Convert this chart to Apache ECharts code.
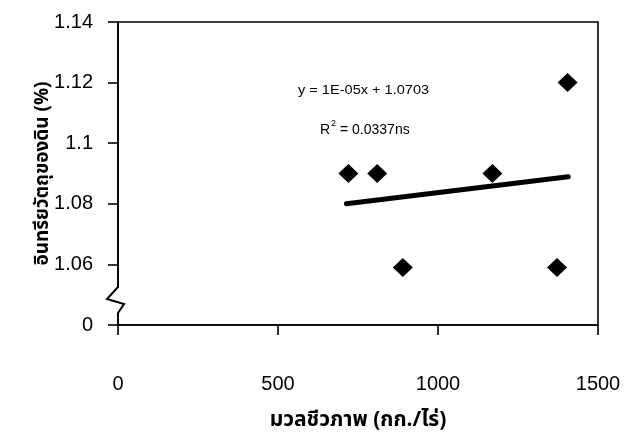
<!DOCTYPE html>
<html>
<head>
<meta charset="utf-8">
<script src="https://cdn.jsdelivr.net/npm/echarts@6/dist/echarts.min.js"></script>
<style>html,body{margin:0;padding:0;background:#fff}#c{width:626px;height:437px}</style>
</head>
<body>
<div id="c"></div>
<script>
// data
var biomass = [720, 810, 1170, 890, 1372, 1405];
var organicMatter = [1.09, 1.09, 1.09, 1.059, 1.059, 1.12];
var trendX = [714, 1407];
var trendY = [1.080, 1.0889];
var yTickLabels = ['0', '1.06', '1.08', '1.1', '1.12', '1.14'];
var xTickLabels = ['0', '500', '1000', '1500'];
var xTitle = 'มวลชีวภาพ (กก./ไร่)';
var yTitle = 'อินทรียวัตถุของดิน (%)';
var eqText = 'y = 1E-05x + 1.0703';
var r2Value = '0.0337ns';

var chart = echarts.init(document.getElementById('c'), null, {renderer: 'canvas'});
var fontF = '"Liberation Sans", Arial, sans-serif';
var thaiF = '"Noto Sans Thai", "Noto Serif Thai", Loma, Garuda, "Liberation Sans", sans-serif';

var scatterData = biomass.map(function (x, i) { return [x, organicMatter[i]]; });
var trendData = trendX.map(function (x, i) { return [x, trendY[i]]; });

chart.setOption({
  animation: false,
  backgroundColor: '#fff',
  grid: {left: 118, right: 28, top: 22, bottom: 112, show: true, borderColor: '#000', borderWidth: 1.6, backgroundColor: 'transparent'},
  graphic: [
    {type: 'text', x: 298, y: 84, scaleX: 1.12, z: 10, style: {text: eqText, font: '13px ' + fontF, fill: '#000'}},
    {type: 'text', x: 320, y: 119, z: 10, style: {
      text: '{r|R}{s|2}{r| = ' + r2Value + '}',
      rich: {r: {font: '14px ' + fontF, fill: '#000', verticalAlign: 'bottom', lineHeight: 18},
             s: {font: '9px ' + fontF, fill: '#000', verticalAlign: 'top', lineHeight: 18, padding: [0, 0, 9, 1]}}
    }}
  ],
  xAxis: {
    type: 'value', min: 0, max: 1500, interval: 500,
    axisLine: {show: true, onZero: false, lineStyle: {color: '#000', width: 1.6}},
    axisTick: {show: true, inside: false, length: 10, lineStyle: {color: '#000', width: 1.6}},
    splitLine: {show: false},
    axisLabel: {margin: 49, color: '#000', fontSize: 20, fontFamily: fontF,
      formatter: function (v, i) { return xTickLabels[i]; }},
    name: xTitle, nameLocation: 'middle', nameGap: 86, nameMoveOverlap: false,
    nameTextStyle: {color: '#000', fontSize: 21, fontWeight: 'bold', fontFamily: thaiF}
  },
  yAxis: {
    type: 'value', min: 1.04, max: 1.14, interval: 0.02,
    axisLine: {show: true, onZero: false, lineStyle: {color: '#000', width: 1.6}},
    axisTick: {show: true, inside: false, length: 10, lineStyle: {color: '#000', width: 1.6}},
    splitLine: {show: false},
    axisLabel: {margin: 25, color: '#000', fontSize: 20, fontFamily: fontF,
      formatter: function (v, i) { return yTickLabels[i]; }},
    name: yTitle, nameLocation: 'middle', nameGap: 64, nameRotate: 90, nameMoveOverlap: false,
    nameTextStyle: {color: '#000', fontSize: 19, fontWeight: 'bold', fontFamily: thaiF}
  },
  series: [
    {type: 'line', data: trendData, symbol: 'none', z: 3,
      lineStyle: {color: '#000', width: 5, cap: 'round', opacity: 1}},
    {type: 'scatter', data: scatterData, symbol: 'diamond', symbolSize: [20, 19], z: 4,
      itemStyle: {color: '#000', opacity: 1}},
    {type: 'custom', data: [[0, 1.04]], clip: false, z: 5, silent: true,
      renderItem: function (params, api) {
        var p = api.coord([api.value(0), api.value(1)]);
        var bx = p[0], by = p[1];
        return {type: 'group', children: [
          {type: 'rect', shape: {x: bx - 3, y: by - 37, width: 6, height: 26}, style: {fill: '#fff'}},
          {type: 'polyline', shape: {points: [[bx, by - 38], [bx - 11, by - 26], [bx + 6, by - 21], [bx, by - 12], [bx, by - 10]]},
            style: {stroke: '#000', lineWidth: 2, fill: 'none'}}
        ]};
      }}
  ]
});
</script>
</body>
</html>
